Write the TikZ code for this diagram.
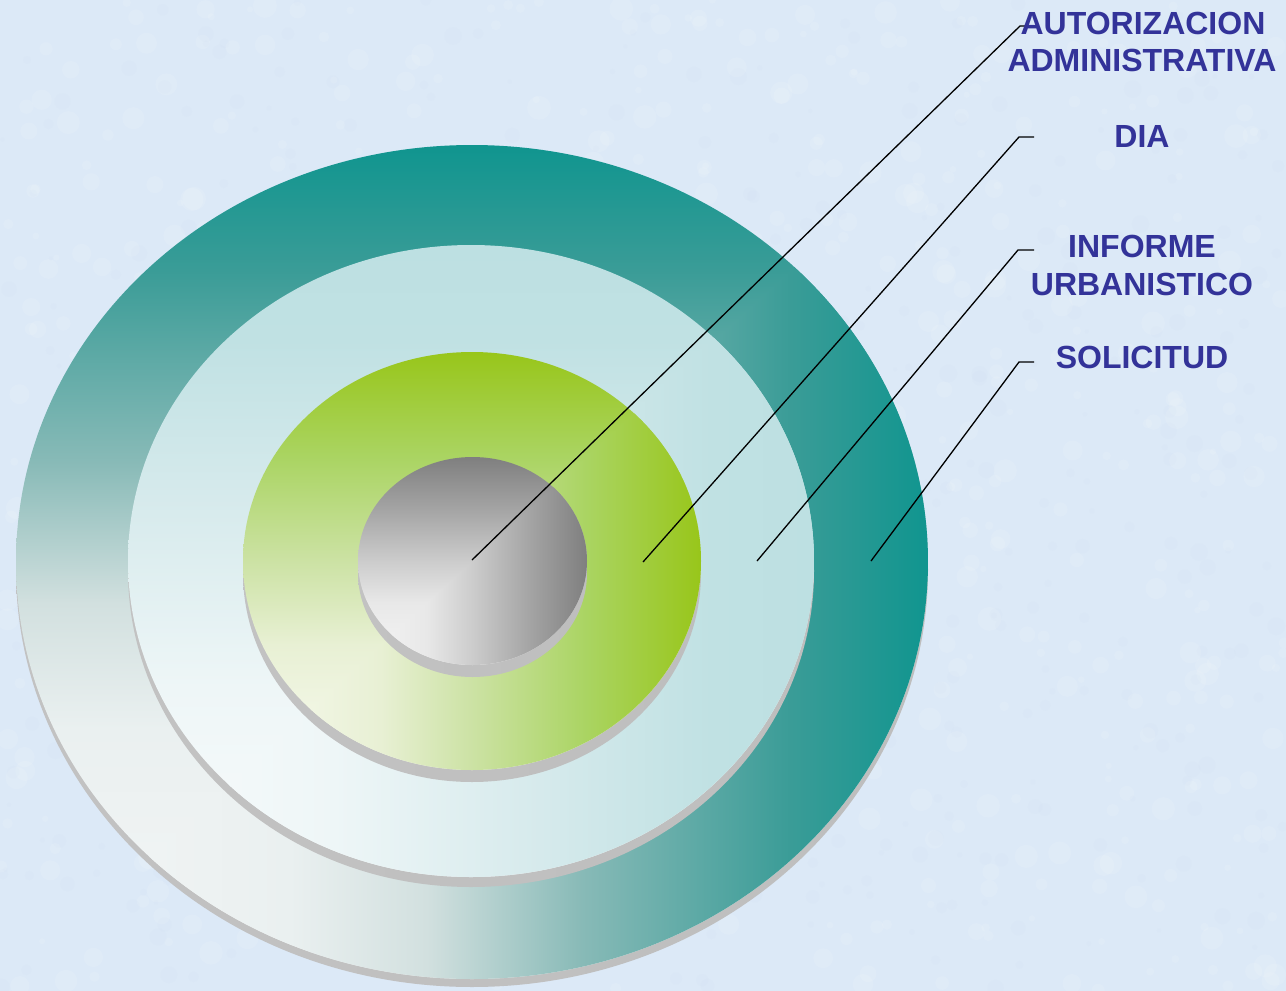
\documentclass[tikz,border=0pt]{standalone}
\usepackage{fontspec}
\setmainfont{Liberation Sans}
\definecolor{bgc}{HTML}{DCE9F7}
\definecolor{bgd}{HTML}{CCDCEE}
\definecolor{lblc}{HTML}{333399}
% outer teal ring
\definecolor{oA}{HTML}{F4F6F6}\definecolor{oB}{HTML}{EAF0F0}\definecolor{oC}{HTML}{D2E0DF}
\definecolor{oD}{HTML}{88BAB7}\definecolor{oE}{HTML}{3A9C97}\definecolor{oF}{HTML}{10958F}
% light cyan ring
\definecolor{cA}{HTML}{F8FBFC}\definecolor{cB}{HTML}{EEF6F7}\definecolor{cC}{HTML}{D6EAEC}
\definecolor{cD}{HTML}{C0E1E3}\definecolor{cE}{HTML}{BDE0E2}
% green ring
\definecolor{gA}{HTML}{F8FAF0}\definecolor{gB}{HTML}{E8F0D4}\definecolor{gC}{HTML}{CCE2A4}
\definecolor{gD}{HTML}{AAD462}\definecolor{gE}{HTML}{98C61A}
% grey core
\definecolor{kA}{HTML}{F6F6F6}\definecolor{kB}{HTML}{E8E8E8}\definecolor{kC}{HTML}{CCCCCC}
\definecolor{kD}{HTML}{A4A4A4}\definecolor{kE}{HTML}{7F7F7F}
% rim
\definecolor{rimL}{HTML}{C2C2C2}\definecolor{rimM}{HTML}{9A9A9A}\definecolor{rimR}{HTML}{BEBEBE}

\pgfdeclareverticalshading{outV}{100bp}{color(0bp)=(oA); color(25bp)=(oA); color(40bp)=(oB); color(47.5bp)=(oC); color(56bp)=(oD); color(67.5bp)=(oE); color(75bp)=(oF); color(100bp)=(oF)}
\pgfdeclarehorizontalshading{outH}{100bp}{color(0bp)=(oA); color(25bp)=(oA); color(40bp)=(oB); color(47.5bp)=(oC); color(56bp)=(oD); color(67.5bp)=(oE); color(75bp)=(oF); color(100bp)=(oF)}
\pgfdeclareverticalshading{cyaV}{100bp}{color(0bp)=(cA); color(25bp)=(cA); color(40bp)=(cB); color(55bp)=(cC); color(67.5bp)=(cD); color(75bp)=(cE); color(100bp)=(cE)}
\pgfdeclarehorizontalshading{cyaH}{100bp}{color(0bp)=(cA); color(25bp)=(cA); color(40bp)=(cB); color(55bp)=(cC); color(67.5bp)=(cD); color(75bp)=(cE); color(100bp)=(cE)}
\pgfdeclareverticalshading{grnV}{100bp}{color(0bp)=(gA); color(25bp)=(gA); color(40bp)=(gB); color(50bp)=(gC); color(62.5bp)=(gD); color(75bp)=(gE); color(100bp)=(gE)}
\pgfdeclarehorizontalshading{grnH}{100bp}{color(0bp)=(gA); color(25bp)=(gA); color(40bp)=(gB); color(50bp)=(gC); color(62.5bp)=(gD); color(75bp)=(gE); color(100bp)=(gE)}
\pgfdeclareverticalshading{gryV}{100bp}{color(0bp)=(kA); color(25bp)=(kA); color(40bp)=(kB); color(50bp)=(kC); color(62.5bp)=(kD); color(75bp)=(kE); color(100bp)=(kE)}
\pgfdeclarehorizontalshading{gryH}{100bp}{color(0bp)=(kA); color(25bp)=(kA); color(40bp)=(kB); color(50bp)=(kC); color(62.5bp)=(kD); color(75bp)=(kE); color(100bp)=(kE)}

% #1 cx, #2 cy (pixels, y down), #3 rx, #4 ry, #5 vertical shading, #6 horizontal shading, #7 rim offset
\newcommand{\ringdisk}[7]{%
  \shade[left color=rimL, middle color=rimM, right color=rimR]
    (#1,{#2+#7}) ellipse [x radius=#3, y radius=#4];
  \begin{scope}
    \clip (#1,#2) ellipse [x radius=#3, y radius=#4];
    \shade[shading=#5] ({#1-#3},{#2-#4}) rectangle ({#1+#3},{#2+#4});
    \clip ({#1-#3},{#2+#4}) -- ({#1+#3},{#2-#4}) -- ({#1+#3},{#2+#4}) -- cycle;
    \shade[shading=#6] ({#1-#3},{#2-#4}) rectangle ({#1+#3},{#2+#4});
  \end{scope}}

\tikzset{
  lbl/.style={font=\bfseries\fontsize{16}{19}\selectfont, text=lblc, anchor=base, inner sep=0pt},
  leader/.style={draw=black, line width=0.65pt, line join=miter}
}

\begin{document}
\begin{tikzpicture}[x=0.5pt, y=-0.5pt]
  \useasboundingbox (0,0) rectangle (1286,991);
  \fill[bgc] (0,0) rectangle (1286,991);
  % subtle mottled paper texture
  \pgfmathsetseed{11}
  \foreach \i in {1,...,700}{
    \pgfmathsetmacro{\px}{rnd*1286}
    \pgfmathsetmacro{\py}{rnd*991}
    \pgfmathsetmacro{\pr}{3+rnd*9}
    \fill[white, opacity=0.10] (\px,\py) circle [radius=\pr];
  }
  \foreach \i in {1,...,500}{
    \pgfmathsetmacro{\px}{rnd*1286}
    \pgfmathsetmacro{\py}{rnd*991}
    \pgfmathsetmacro{\pr}{2+rnd*7}
    \fill[bgd, opacity=0.10] (\px,\py) circle [radius=\pr];
  }

  % rings, from outside in
  \ringdisk{472}{562}{456}{417}{outV}{outH}{8}
  \ringdisk{471}{561}{343}{316}{cyaV}{cyaH}{10}
  \ringdisk{472}{561}{229}{209}{grnV}{grnH}{12}
  \ringdisk{472.5}{561}{114.5}{104}{gryV}{gryH}{12}

  % leader anchor points
  \coordinate (pA) at (472,560);
  \coordinate (pB) at (643,562);
  \coordinate (pC) at (757,561);
  \coordinate (pD) at (871,561);
  \coordinate (kA) at (1020,26);  \coordinate (eA) at (1027,26);
  \coordinate (kB) at (1019,137); \coordinate (eB) at (1034,137);
  \coordinate (kC) at (1018,250); \coordinate (eC) at (1034,250);
  \coordinate (kD) at (1019,362); \coordinate (eD) at (1034,362);

  \draw[leader] (pA) -- (kA) -- (eA);
  \draw[leader] (pB) -- (kB) -- (eB);
  \draw[leader] (pC) -- (kC) -- (eC);
  \draw[leader] (pD) -- (kD) -- (eD);

  % labels
  \node[lbl] (aut1) at (1143,34) {AUTORIZACION};
  \node[lbl] (aut2) at (1142,71) {ADMINISTRATIVA};
  \node[lbl] (dia)  at (1142,147) {DIA};
  \node[lbl] (inf1) at (1142,257) {INFORME};
  \node[lbl] (inf2) at (1142,295) {URBANISTICO};
  \node[lbl] (sol)  at (1142,368) {SOLICITUD};
\end{tikzpicture}
\end{document}
